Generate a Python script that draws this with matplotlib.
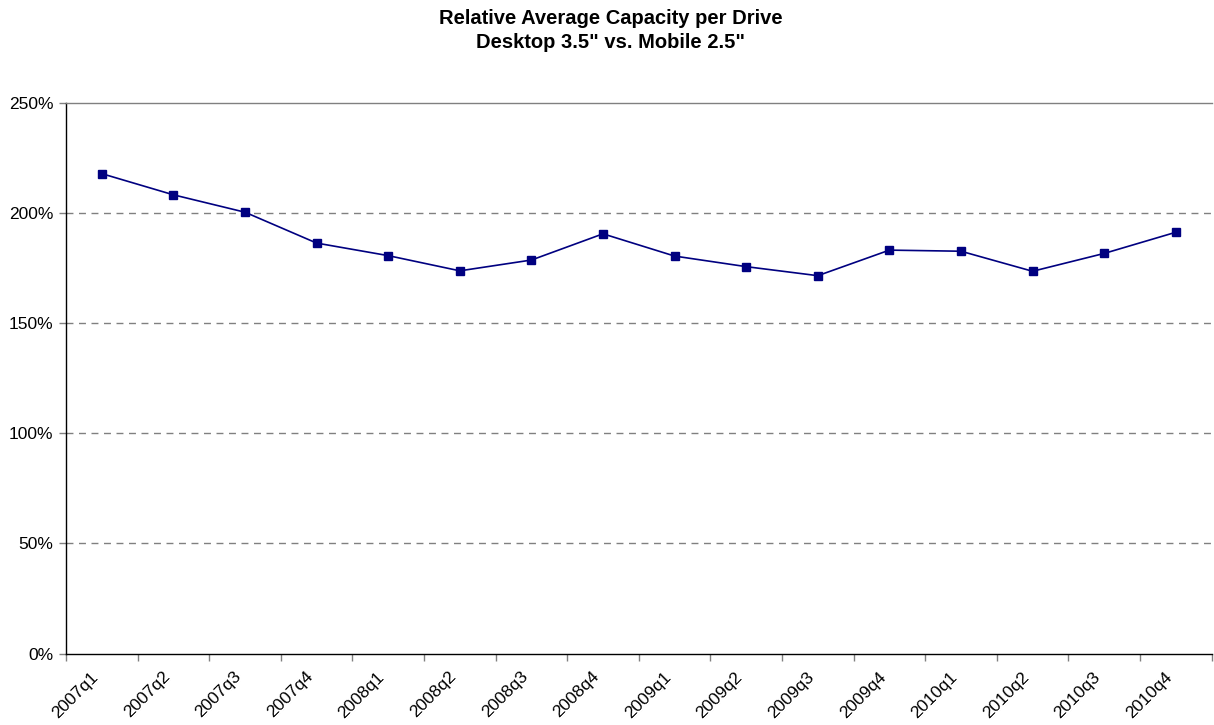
import matplotlib
matplotlib.use("Agg")
import matplotlib.pyplot as plt
from matplotlib.ticker import FixedLocator, PercentFormatter
import matplotlib.transforms as mtransforms

plt.rcParams['font.family'] = ['Liberation Sans', 'DejaVu Sans']

quarters = ["2007q1", "2007q2", "2007q3", "2007q4",
            "2008q1", "2008q2", "2008q3", "2008q4",
            "2009q1", "2009q2", "2009q3", "2009q4",
            "2010q1", "2010q2", "2010q3", "2010q4"]
relative_capacity = [217.8, 208.2, 200.3, 186.3,
                     180.6, 173.7, 178.6, 190.5,
                     180.4, 175.6, 171.5, 183.1,
                     182.6, 173.5, 181.6, 191.2]
y_ticks = [0, 50, 100, 150, 200, 250]

fig = plt.figure(figsize=(12.14, 7.25), dpi=100)
ax = fig.add_axes([0.0544, 0.0986, 0.9436, 0.7597])

centers = [i + 0.5 for i in range(len(quarters))]
ax.plot(centers, relative_capacity, color='#000080', linewidth=1.2,
        marker='s', markersize=6, markerfacecolor='#000080',
        markeredgecolor='#000080', zorder=3)

ax.set_xlim(0, len(quarters))
ax.set_ylim(0, 250)

# dashed gridlines
for v in y_ticks[1:-1]:
    ax.axhline(v, color='#808080', linestyle=(0, (5, 4)), linewidth=1.0, zorder=1)

ax.yaxis.set_major_locator(FixedLocator(y_ticks))
ax.yaxis.set_major_formatter(PercentFormatter(decimals=0))

# category boundaries carry the tick marks, labels sit at category centers
ax.xaxis.set_major_locator(FixedLocator(centers))
ax.set_xticklabels(quarters, rotation=45, ha='right', va='center',
                   rotation_mode='anchor')
ax.xaxis.set_minor_locator(FixedLocator(range(len(quarters) + 1)))
ax.tick_params(axis='x', which='major', length=0, pad=15, labelsize=12.5)
ax.tick_params(axis='x', which='minor', length=5, width=1, color='#808080')
ax.tick_params(axis='y', which='major', length=5, width=1, color='#808080',
               labelsize=12.5, pad=4)

offset = mtransforms.ScaledTranslation(-6 / 100, 0, fig.dpi_scale_trans)
for lbl in ax.get_xticklabels():
    lbl.set_transform(lbl.get_transform() + offset)

ax.spines['right'].set_visible(False)
ax.spines['top'].set_color('#808080')
ax.spines['top'].set_linewidth(1.0)
ax.spines['left'].set_color('black')
ax.spines['bottom'].set_color('black')
ax.spines['left'].set_linewidth(1.0)
ax.spines['bottom'].set_linewidth(1.0)

fig.text(0.503, 0.988, "Relative Average Capacity per Drive\nDesktop 3.5\" vs. Mobile 2.5\"",
         ha='center', va='top', fontsize=14.5, fontweight='bold', linespacing=1.35)

fig.savefig("out.png", dpi=100)
